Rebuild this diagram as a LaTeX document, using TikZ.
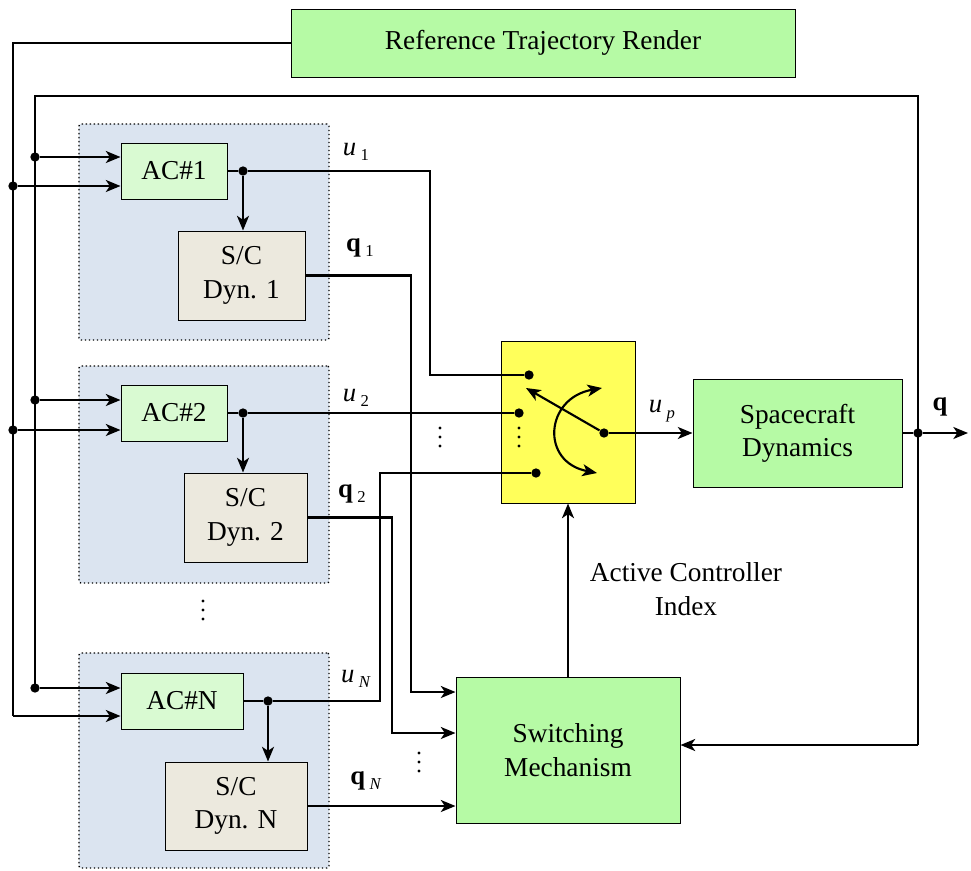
\documentclass[tikz,border=0pt]{standalone}
\usepackage{fontspec}
\setmainfont{Liberation Serif}
\usetikzlibrary{arrows.meta}

\definecolor{refgreen}{RGB}{182,250,165}
\definecolor{acgreen}{RGB}{217,250,210}
\definecolor{dynbeige}{RGB}{236,233,222}
\definecolor{panelblue}{RGB}{219,228,240}
\definecolor{swyellow}{RGB}{255,255,90}

\newcommand{\subtxt}[1]{\raisebox{-4pt}{\fontsize{12.5}{13}\selectfont #1}}

\tikzset{every picture/.style={line width=0.75pt}}
\tikzset{
	>={Stealth[length=11pt,width=9pt,inset=3pt]},
	blk/.style={draw, inner sep=0pt, align=center, font=\fontsize{20.5}{25}\selectfont},
	panel/.style={draw, fill=panelblue, dotted, line width=1pt, rounded corners=1.5pt, inner sep=0pt},
	wire/.style={line width=1.6pt},
	arr/.style={wire, ->},
	jdot/.style={circle, fill, inner sep=0pt, minimum size=7pt},
	lbl/.style={inner sep=0pt, font=\fontsize{20}{22}\selectfont},
}

\begin{document}
\begin{tikzpicture}[x=0.75pt,y=0.75pt,yscale=-1,xscale=1]
	\useasboundingbox (0,0) rectangle (971,871);
	%Panels
	\node [panel, minimum width=187.5pt, minimum height=162pt] (p1) at (204,232) {};
	\node [panel, minimum width=187.5pt, minimum height=162.75pt] (p2) at (204,474.5) {};
	\node [panel, minimum width=187.5pt, minimum height=161.25pt] (p3) at (204,760.5) {};
	
	%Blocks
	\node [blk, fill=refgreen, minimum width=378pt, minimum height=51pt] (ref) at (543,43) {Reference Trajectory Render};
	\node [blk, fill=acgreen, minimum width=79.5pt, minimum height=42pt] (ac1) at (174,171) {AC\#1};
	\node [blk, fill=dynbeige, minimum width=95.25pt, minimum height=66.75pt] (dyn1) at (241.5,275.5) {S/C\\Dyn. 1};
	\node [blk, fill=acgreen, minimum width=79.5pt, minimum height=42pt] (ac2) at (174,413) {AC\#2};
	\node [blk, fill=dynbeige, minimum width=92.25pt, minimum height=66.75pt] (dyn2) at (245.5,517.5) {S/C\\Dyn. 2};
	\node [blk, fill=acgreen, minimum width=91.5pt, minimum height=42pt] (acN) at (182,701) {AC\#N};
	\node [blk, fill=dynbeige, minimum width=106.5pt, minimum height=66pt] (dynN) at (236,806) {S/C\\Dyn. N};
	\node [blk, fill=swyellow, minimum width=100.5pt, minimum height=121.5pt] (sw) at (568,422) {};
	\node [blk, fill=refgreen, minimum width=156.75pt, minimum height=81pt] (sc) at (797.5,433) {Spacecraft\\Dynamics};
	\node [blk, fill=refgreen, minimum width=168pt, minimum height=109.5pt] (swm) at (568,750) {Switching\\Mechanism};
	
	%Junctions and bends
	\coordinate (tA) at (13,716);
	\coordinate (tB) at (35,688);
	\coordinate (bB) at (35,96);
	\coordinate (bR) at (918,96);
	\coordinate (fb) at (918,745);
	\coordinate (k1) at (430,171);
	\coordinate (kq1) at (411,692);
	\coordinate (kq2) at (392,733);
	\coordinate (kN) at (380,701);
	\coordinate (qout) at (968,433);
	\coordinate (swtip) at (526,388);
	\coordinate (arcA) at (602,388);
	\coordinate (arcB) at (597,473);
	\node [jdot] (a1) at (35,157) {};
	\node [jdot] (b1) at (13,186) {};
	\node [jdot] (a2) at (35,400) {};
	\node [jdot] (b2) at (13,430) {};
	\node [jdot] (aN) at (35,688) {};
	\node [jdot] (j1) at (243,171) {};
	\node [jdot] (j2) at (243,413) {};
	\node [jdot] (jN) at (268,701) {};
	\node [jdot] (s1) at (529,375) {};
	\node [jdot] (s2) at (519,413) {};
	\node [jdot] (s3) at (536,473) {};
	\node [jdot] (piv) at (604,433) {};
	\node [jdot] (qj) at (918,433) {};
	
	%Buses
	\draw [wire] (ref.west) -| (tA);
	\draw [wire] (tB) -- (bB) -- (bR) -- (fb);
	\draw [arr] (fb) -- (fb -| swm.east);
	\draw [arr] (a1) -- (a1 -| ac1.west);
	\draw [arr] (b1) -- (b1 -| ac1.west);
	\draw [arr] (a2) -- (a2 -| ac2.west);
	\draw [arr] (b2) -- (b2 -| ac2.west);
	\draw [arr] (aN) -- (aN -| acN.west);
	\draw [arr] (tA) -- (tA -| acN.west);
	
	%Controller outputs
	\draw [wire] (ac1.east) -- (j1);
	\draw [arr] (j1) -- (j1 |- dyn1.north);
	\draw [wire] (j1) -- (k1) |- (s1);
	\draw [wire] (ac2.east) -- (j2);
	\draw [arr] (j2) -- (j2 |- dyn2.north);
	\draw [wire] (j2) -- (s2);
	\draw [wire] (acN.east) -- (jN);
	\draw [arr] (jN) -- (jN |- dynN.north);
	\draw [wire] (jN) -- (kN) |- (s3);
	
	%States to switching mechanism
	\draw [arr] (dyn1.east) -| (kq1) -- (kq1 -| swm.west);
	\draw [arr] (dyn2.east) -| (kq2) -- (kq2 -| swm.west);
	\draw [arr] (dynN.east) -- (dynN.east -| swm.west);
	
	%Switch
	\draw [arr] (piv) -- (swtip);
	\draw [wire, <->] (arcA) .. controls (545,398) and (540,462) .. (arcB);
	\draw [arr] (piv) -- (sc.west);
	\draw [arr] (swm.north) -- (sw.south);
	\draw [wire] (sc.east) -- (qj);
	\draw [arr] (qj) -- (qout);
	
	%Labels
	\node [lbl] (lu1) at (356,152) {\textit{u}\,\subtxt{1}};
	\node [lbl] (lq1) at (360,248) {\textbf{q}\,\subtxt{1}};
	\node [lbl] (lu2) at (356,398) {\textit{u}\,\subtxt{2}};
	\node [lbl] (lq2) at (352,494) {\textbf{q}\,\subtxt{2}};
	\node [lbl] (luN) at (356,679) {\textit{u}\,\subtxt{\textit{N}}};
	\node [lbl] (lqN) at (366,781) {\textbf{q}\,\subtxt{\textit{N}}};
	\node [lbl] (lup) at (662,411) {\textit{u}\,\subtxt{\textit{p}}};
	\node [lbl] (lq) at (940,407) {\textbf{q}};
	\node [blk, draw=none] (lidx) at (686,589) {Active Controller\\Index};
	
	%Ellipsis dots
	\coordinate (d1) at (203,610);
	\coordinate (d2) at (440,437);
	\coordinate (d3) at (519,437);
	\coordinate (d4) at (419,762);
	\foreach \d in {d1,d2,d3,d4}
		\foreach \dy in {-9,0,9}
			\fill (\d) ++(0,\dy) circle (1.6);
\end{tikzpicture}
\end{document}
